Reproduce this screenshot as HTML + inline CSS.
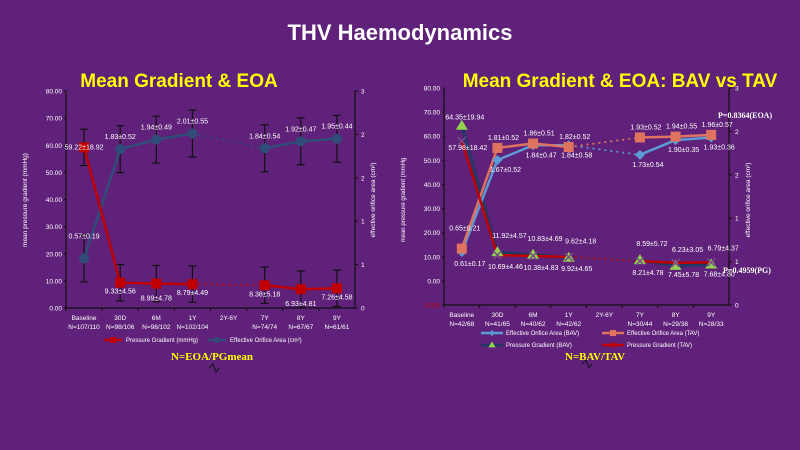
<!DOCTYPE html>
<html><head><meta charset="utf-8"><style>
html,body{margin:0;padding:0;background:#5f2179;width:800px;height:450px;overflow:hidden;font-family:"Liberation Sans",sans-serif}
svg text{font-family:"Liberation Sans",sans-serif}
</style></head><body>
<svg id="s" width="800" height="450" viewBox="0 0 800 450" xmlns="http://www.w3.org/2000/svg">
<rect width="800" height="450" fill="#5f2179"/>
<text x="400" y="40" text-anchor="middle" fill="#fff" font-size="22" font-weight="bold">THV Haemodynamics</text>
<text x="179" y="87" text-anchor="middle" fill="#ffff00" font-size="19" font-weight="bold">Mean Gradient &amp; EOA</text>
<text x="620" y="87" text-anchor="middle" fill="#ffff00" font-size="19" font-weight="bold">Mean Gradient &amp; EOA: BAV vs TAV</text>
<text x="212" y="360" text-anchor="middle" fill="#ffff00" font-size="11" font-weight="bold" style="font-family:'Liberation Serif',serif">N=EOA/PGmean</text>
<text x="595" y="360" text-anchor="middle" fill="#ffff00" font-size="11" font-weight="bold" style="font-family:'Liberation Serif',serif">N=BAV/TAV</text>
<path d="M209,368 l4,-4 l3,8 l3,-4" stroke="#111" fill="none"/>
<path d="M582,364 l4,-4 l3,8 l3,-4" stroke="#111" fill="none"/>
<g id="L"></g><g id="R"></g>
</svg>
<script>
const categories = ["Baseline","30D","6M","1Y","2Y-6Y","7Y","8Y","9Y"];
const leftN = ["N=107/110","N=98/106","N=98/102","N=102/104","","N=74/74","N=67/67","N=61/61"];
const leftPG = [59.22,9.33,8.99,8.79,null,8.38,6.93,7.26];
const leftPGLabels = ["59.22±18.92","9.33±4.56","8.99±4.78","8.79±4.49","","8.38±5.18","6.93±4.81","7.26±4.58"];
const leftPGErr = [6.7,6.7,6.7,6.7,null,6.7,6.7,6.7];
const leftEOA = [0.57,1.83,1.94,2.01,null,1.84,1.92,1.95];
const leftEOALabels = ["0.57±0.19","1.83±0.52","1.94±0.49","2.01±0.55","","1.84±0.54","1.92±0.47","1.95±0.44"];
const leftEOAErr = [0.27,0.27,0.27,0.27,null,0.27,0.27,0.27];
const leftTicks = [0,10,20,30,40,50,60,70,80];
const eoaTicks = [0,0.5,1,1.5,2,2.5];
const eoaTickLabels = ["0","1","1","2","2","3"];
const rightN = ["N=42/68","N=41/65","N=40/62","N=42/62","","N=30/44","N=29/38","N=28/33"];
const rightTicks = [-10,0,10,20,30,40,50,60,70,80];
const eoaBAV = [0.61,1.67,1.84,1.84,null,1.73,1.90,1.93];
const eoaBAVLabels = ["0.61±0.17","1.67±0.52","1.84±0.47","1.84±0.58","","1.73±0.54","1.90±0.35","1.93±0.36"];
const eoaTAV = [0.65,1.81,1.86,1.82,null,1.93,1.94,1.96];
const eoaTAVLabels = ["0.65±0.21","1.81±0.52","1.86±0.51","1.82±0.52","","1.93±0.52","1.94±0.55","1.96±0.57"];
const pgBAV = [64.35,11.92,10.83,9.62,null,8.59,6.23,6.79];
const pgBAVLabels = ["64.35±19.94","11.92±4.57","10.83±4.69","9.62±4.18","","8.59±5.72","6.23±3.05","6.79±4.37"];
const pgTAV = [57.98,10.69,10.38,9.92,null,8.21,7.45,7.68];
const pgTAVLabels = ["57.98±18.42","10.69±4.46","10.38±4.83","9.92±4.65","","8.21±4.78","7.45±5.78","7.68±4.80"];

const NS="http://www.w3.org/2000/svg";
function el(p,t,a){const e=document.createElementNS(NS,t);for(const k in a)e.setAttribute(k,a[k]);p.appendChild(e);return e;}
function txt(p,x,y,s,a){const e=el(p,'text',Object.assign({x:x,y:y,fill:'#fff','font-size':7},a||{}));e.textContent=s;return e;}

function axes(g,cfg){
  const {x0,x1,yTop,yBot,lmin,lmax,ticks,nLabels}=cfg;
  const yl=v=>yBot-(v-lmin)/(lmax-lmin)*(yBot-yTop);
  const yr=v=>yBot-v/2.5*(yBot-yTop);
  const step=(x1-x0)/categories.length;
  const xc=i=>x0+step*(i+0.5);
  const ax=el(g,'path',{d:`M${x0},${yTop} V${yBot} H${x1} V${yTop}`,stroke:'#111',fill:'none','stroke-width':1.2});
  
  
  ticks.forEach(v=>{
    const t=txt(g,x0-4,yl(v)+2.5,v.toFixed(2),{'text-anchor':'end','font-size':6.5,fill:v<0?'#c00000':'#fff'});
    
    
    el(g,'line',{x1:x0-2,x2:x0,y1:yl(v),y2:yl(v),stroke:'#111'});
  });
  eoaTicks.forEach((v,i)=>{
    const t=txt(g,x1+6,yr(v)+2.5,eoaTickLabels[i],{'font-size':6.5});
    
    
    el(g,'line',{x1:x1,x2:x1+3,y1:yr(v),y2:yr(v),stroke:'#111'});
  });
  categories.forEach((c,i)=>{
    el(g,'line',{x1:x0+step*i,x2:x0+step*i,y1:yBot,y2:yBot+3,stroke:'#111'});
    const t=txt(g,xc(i),yBot+12,c,{'text-anchor':'middle','font-size':6.5});
    
    
    if(nLabels[i]){const n=txt(g,xc(i),yBot+21,nLabels[i],{'text-anchor':'middle','font-size':6.5});
    
    }
  });
  return {yl,yr,xc};
}
function series(g,vals,xc,y,color,w,name){
  const pts=vals.map((v,i)=>v==null?null:[xc(i),y(v)]);
  let d='',dd='';
  for(let i=0;i<pts.length-1;i++){
    if(!pts[i])continue;
    let j=i+1; while(j<pts.length&&!pts[j])j++;
    if(j>=pts.length)break;
    const seg=`M${pts[i][0]},${pts[i][1]} L${pts[j][0]},${pts[j][1]} `;
    if(j-i>1)dd+=seg;else d+=seg;
  }
  const l=el(g,'path',{d:d,stroke:color,'stroke-width':w,fill:'none'});
  
  
  const l2=el(g,'path',{d:dd,stroke:color,'stroke-width':w*0.7,fill:'none','stroke-dasharray':'2,4'});
  
  
  return pts;
}
function marker(g,type,x,y,color,name,s){
  s=s||1;let m;
  if(type==='sq')m=el(g,'rect',{x:x-5*s,y:y-5*s,width:10*s,height:10*s,fill:color});
  else if(type==='c')m=el(g,'circle',{cx:x,cy:y,r:5*s,fill:color});
  else if(type==='d')m=el(g,'path',{d:`M${x},${y-5*s} L${x+5*s},${y} L${x},${y+5*s} L${x-5*s},${y}Z`,fill:color});
  else if(type==='t')m=el(g,'path',{d:`M${x},${y-6*s} L${x+6*s},${y+4*s} L${x-6*s},${y+4*s}Z`,fill:color});
  else m=el(g,'path',{d:`M${x-4*s},${y-4*s} L${x+4*s},${y+4*s} M${x+4*s},${y-4*s} L${x-4*s},${y+4*s}`,stroke:color,'stroke-width':1.5});
  
  
}

// LEFT CHART
const L=document.getElementById('L');
const A=axes(L,{x0:66,x1:355,yTop:91,yBot:308,lmin:0,lmax:80,ticks:leftTicks,nLabels:leftN});
const ty=txt(L,27,200,'mean pressure gradient (mmHg)',{'text-anchor':'middle','font-size':6.5,transform:'rotate(-90 27 200)'});


const ty2=txt(L,375,200,'effective orifice area (cm²)',{'text-anchor':'middle','font-size':6.5,transform:'rotate(-90 375 200)'});


leftPG.forEach((v,i)=>{if(v==null)return;const x=A.xc(i);
  el(L,'path',{d:`M${x},${A.yl(v-leftPGErr[i])} V${A.yl(v+leftPGErr[i])} M${x-4},${A.yl(v-leftPGErr[i])} h8 M${x-4},${A.yl(v+leftPGErr[i])} h8`,stroke:'#111','stroke-width':1.2});});
leftEOA.forEach((v,i)=>{if(v==null)return;const x=A.xc(i);
  el(L,'path',{d:`M${x},${A.yr(v-leftEOAErr[i])} V${A.yr(v+leftEOAErr[i])} M${x-4},${A.yr(v-leftEOAErr[i])} h8 M${x-4},${A.yr(v+leftEOAErr[i])} h8`,stroke:'#111','stroke-width':1.2});});
const pe=series(L,leftEOA,A.xc,A.yr,'#2f4d78',2.5,'eoa');
const pp=series(L,leftPG,A.xc,A.yl,'#c00000',2.5,'pg');
pe.forEach((p,i)=>{if(!p)return;marker(L,'c',p[0],p[1],'#2f4d78','eoa-point');
  const t=txt(L,p[0],i==0?p[1]-20:p[1]-10,leftEOALabels[i],{'text-anchor':'middle'});});
pp.forEach((p,i)=>{if(!p)return;marker(L,'sq',p[0],p[1],'#c00000','pg-point');
  const t=txt(L,p[0],i==0?p[1]+2:p[1]+14+(i%2?-3:3),leftPGLabels[i],{'text-anchor':'middle'});});
el(L,'line',{x1:104,x2:122,y1:340,y2:340,stroke:'#c00000','stroke-width':2.5});
el(L,'rect',{x:110,y:337,width:6,height:6,fill:'#c00000'});
let lg=txt(L,126,342,'Pressure Gradient (mmHg)',{'font-size':6});
el(L,'line',{x1:208,x2:226,y1:340,y2:340,stroke:'#2f4d78','stroke-width':2.5});
el(L,'circle',{cx:217,cy:340,r:3,fill:'#2f4d78'});
lg=txt(L,230,342,'Effective Orifice Area (cm²)',{'font-size':6});

// RIGHT CHART
const R=document.getElementById('R');
const B=axes(R,{x0:444,x1:729,yTop:88,yBot:305,lmin:-10,lmax:80,ticks:rightTicks,nLabels:rightN});
const rt=txt(R,405,200,'mean pressure gradient (mmHg',{'text-anchor':'middle','font-size':6,transform:'rotate(-90 405 200)'});

const rt2=txt(R,750,200,'effective orifice area (cm²)',{'text-anchor':'middle','font-size':6.5,transform:'rotate(-90 750 200)'});

const p1=txt(R,718,118,'P=0.8364(EOA)',{'font-size':8,'font-weight':'bold',style:"font-family:'Liberation Serif',serif"});
const p2=txt(R,723,273,'P=0.4959(PG)',{'font-size':8,'font-weight':'bold',style:"font-family:'Liberation Serif',serif"});
const sb=series(R,pgBAV,B.xc,B.yl,'#1f3864',3,'pg-bav');
const ea=series(R,eoaBAV,B.xc,B.yr,'#5b9bd5',2.5,'eoa-bav');
const eb=series(R,eoaTAV,B.xc,B.yr,'#e0735f',2.5,'eoa-tav');
const st=series(R,pgTAV,B.xc,B.yl,'#c00000',2.5,'pg-tav');
ea.forEach((p,i)=>{if(!p)return;marker(R,'d',p[0],p[1],'#5b9bd5','eoa-bav-point');
  const t=txt(R,p[0]+8,p[1]+(i==0?14:12),eoaBAVLabels[i],{'text-anchor':'middle'});});
eb.forEach((p,i)=>{if(!p)return;marker(R,'sq',p[0],p[1],'#e0735f','eoa-tav-point');
  const t=txt(R,p[0]+(i==0?3:6),p[1]-(i==0?18:8),eoaTAVLabels[i],{'text-anchor':'middle'});});
sb.forEach((p,i)=>{if(!p)return;marker(R,'t',p[0],p[1],'#92d050','pg-bav-point');
  const t=txt(R,p[0]+(i==0?3:12),i==0?p[1]-6:p[1]-14,pgBAVLabels[i],{'text-anchor':'middle'});});
st.forEach((p,i)=>{if(!p)return;marker(R,'x',p[0],p[1],'#7a4a8a','pg-tav-point');
  const t=txt(R,p[0]+(i==0?6:8),i==0?p[1]+9:p[1]+14,pgTAVLabels[i],{'text-anchor':'middle'});});
function leg(x,y,c,m,label,name){el(R,'line',{x1:x,x2:x+22,y1:y,y2:y,stroke:c,'stroke-width':2.5});
  marker(R,m,x+11,y,m==='t'?'#92d050':(m==='x'?'#c00000':c),name+'-marker',0.6);
  const t=txt(R,x+25,y+2,label,{'font-size':6});}
leg(481,333,'#5b9bd5','d','Effective Orifice Area (BAV)','legend-eoa-bav');
leg(602,333,'#e0735f','sq','Effective Orifice Area (TAV)','legend-eoa-tav');
leg(481,345,'#1f3864','t','Pressure Gradient (BAV)','legend-pg-bav');
leg(602,345,'#c00000','x','Pressure Gradient (TAV)','legend-pg-tav');
</script>
</body></html>
